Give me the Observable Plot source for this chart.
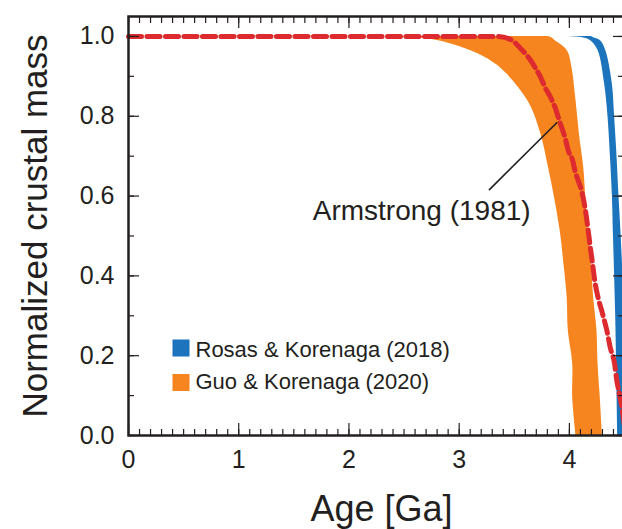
<!DOCTYPE html>
<html><head><meta charset="utf-8">
<script src="https://cdn.jsdelivr.net/npm/d3@7"></script>
<script src="https://cdn.jsdelivr.net/npm/@observablehq/plot@0.6"></script>
<style>html,body{margin:0;padding:0;background:#fff;overflow:hidden}</style>
</head><body><div id="chart"></div>
<script>
// Tick labels / positions
const ageTicks = [0, 1, 2, 3, 4];
const massTicks = [0, 0.2, 0.4, 0.6, 0.8, 1.0];
const ageMinor = d3.range(0, 46).map(i => i / 10);
const massMinor = d3.range(0, 11).map(i => i / 10);

// Guo & Korenaga (2020) band: for each mass level, min and max age
const guoMass = [1.0, 0.997, 0.99, 0.965, 0.927, 0.84, 0.757, 0.672, 0.589, 0.506, 0.431, 0.346, 0.263, 0.18, 0.095, 0.0];
const guoAgeMin = [0.0, 2.6, 2.8, 3.1, 3.35, 3.62, 3.74, 3.81, 3.87, 3.92, 3.95, 3.98, 3.99, 4.03, 4.03, 4.06];
const guoAgeMax = [3.8, 3.84, 3.87, 3.98, 4.02, 4.06, 4.09, 4.13, 4.15, 4.17, 4.20, 4.22, 4.25, 4.26, 4.28, 4.30];

// Rosas & Korenaga (2018) band
const rkMass = [1.0, 0.997, 0.99, 0.965, 0.88, 0.8, 0.71, 0.6, 0.5, 0.3, 0.0];
const rkAgeMin = [3.83, 4.12, 4.19, 4.26, 4.32, 4.35, 4.37, 4.39, 4.40, 4.42, 4.44];
const rkAgeMax = [4.20, 4.22, 4.28, 4.33, 4.39, 4.41, 4.43, 4.45, 4.47, 4.50, 4.52];

// Armstrong (1981) curve
const armAge = [0, 3.35, 3.48, 3.55, 3.63, 3.69, 3.74, 3.78, 3.83, 3.87, 3.90, 3.93, 3.96, 3.99, 4.03, 4.05, 4.08, 4.11, 4.13, 4.15, 4.17, 4.19, 4.21, 4.23, 4.26, 4.30, 4.34, 4.37, 4.41, 4.43, 4.46, 4.48, 4.51];
const armMass = [1.0, 1.0, 0.99, 0.972, 0.947, 0.922, 0.897, 0.872, 0.847, 0.822, 0.797, 0.772, 0.747, 0.714, 0.689, 0.664, 0.639, 0.614, 0.589, 0.556, 0.515, 0.471, 0.431, 0.388, 0.346, 0.306, 0.263, 0.221, 0.18, 0.138, 0.095, 0.063, 0.0];

// Annotation
const annText = ["Armstrong (1981)"];
const annTextAge = [2.66], annTextMass = [0.539];
const annLineAge = [3.27, 3.89], annLineMass = [0.615, 0.785];

// Legend
const legendLabels = ["Rosas & Korenaga (2018)", "Guo & Korenaga (2020)"];
const legendColors = ["#1c75bc", "#f6851f"];

const INK = "#231f20";
const guo = guoMass.map((m, i) => ({m, a1: guoAgeMin[i], a2: guoAgeMax[i]}));
const rk = rkMass.map((m, i) => ({m, a1: rkAgeMin[i], a2: rkAgeMax[i]}));
const arm = armAge.map((a, i) => ({a, m: armMass[i]}));

const H = 529 - 16 - 94;  // inner height
const W = 622 + 2 - 128;  // inner width

const legendMarks = legendLabels.flatMap((lab, i) => [
  Plot.dot([lab], {frameAnchor: "bottom-left", dx: 52.5, dy: i === 0 ? -87.5 : -53, symbol: "square", r: 9.6, fill: legendColors[i], stroke: null}),
  Plot.text([lab], {frameAnchor: "bottom-left", dx: 67, dy: i === 0 ? -79 : -47, text: d => d, textAnchor: "start", lineAnchor: "bottom", fontSize: 22, fill: INK})
]);

const plot = Plot.plot({
  width: 622,
  height: 529,
  marginLeft: 128,
  marginRight: -2,
  marginTop: 16,
  marginBottom: 94,
  style: {fontFamily: "'Liberation Sans', Arial, Helvetica, sans-serif", fontSize: "25px", color: INK, background: "white", overflow: "visible"},
  x: {domain: [0, 4.5]},
  y: {domain: [0, 1.05]},
  marks: [
    Plot.areaX(guo, {y: "m", x1: "a1", x2: "a2", fill: "#f6851f", curve: "catmull-rom"}),
    Plot.areaX(rk, {y: "m", x1: "a1", x2: "a2", fill: "#1c75bc", curve: "catmull-rom"}),
    Plot.line(arm, {x: "a", y: "m", stroke: "#dc2a2f", strokeWidth: 5, strokeDasharray: "13,5.5", curve: "monotone-x"}),
    Plot.link([0], {x1: annLineAge[0], y1: annLineMass[0], x2: annLineAge[1], y2: annLineMass[1], stroke: INK, strokeWidth: 1.6}),
    Plot.text(annText, {x: annTextAge, y: annTextMass, text: d => d, textAnchor: "middle", lineAnchor: "bottom", fontSize: 28, fill: INK}),
    // inward ticks
    Plot.tickX(ageMinor, {x: d => d, insetTop: H - 6, stroke: INK, strokeWidth: 1.2}),
    Plot.tickX(ageTicks, {x: d => d, insetTop: H - 12, stroke: INK, strokeWidth: 1.2}),
    Plot.tickX(ageMinor, {x: d => d, insetBottom: H - 7, stroke: INK, strokeWidth: 1.2}),
    Plot.tickX(ageTicks, {x: d => d, insetBottom: H - 12, stroke: INK, strokeWidth: 1.2}),
    Plot.tickY(massMinor, {y: d => d, insetRight: W - 6, stroke: INK, strokeWidth: 1.2}),
    Plot.tickY(massTicks, {y: d => d, insetRight: W - 11, stroke: INK, strokeWidth: 1.2}),
    Plot.tickY(massMinor, {y: d => d, insetLeft: W - 6, stroke: INK, strokeWidth: 1.2}),
    Plot.tickY(massTicks, {y: d => d, insetLeft: W - 11, stroke: INK, strokeWidth: 1.2}),
    Plot.frame({stroke: INK, strokeWidth: 2.5}),
    Plot.axisX({ticks: ageTicks, tickSize: 0, tickPadding: 15, tickFormat: d3.format("d"), label: null}),
    Plot.axisY({ticks: massTicks, tickSize: 0, tickPadding: 14, tickFormat: d3.format(".1f"), label: null}),
    Plot.text(["Age [Ga]"], {frameAnchor: "bottom", dx: 5, dy: 85, text: d => d, lineAnchor: "bottom", textAnchor: "middle", fontSize: 36, fill: INK}),
    Plot.text(["Normalized crustal mass"], {frameAnchor: "left", dx: -82, text: d => d, rotate: -90, lineAnchor: "bottom", textAnchor: "middle", fontSize: 35, fill: INK}),
    ...legendMarks
  ]
});
document.getElementById("chart").appendChild(plot);
</script>
</body></html>
